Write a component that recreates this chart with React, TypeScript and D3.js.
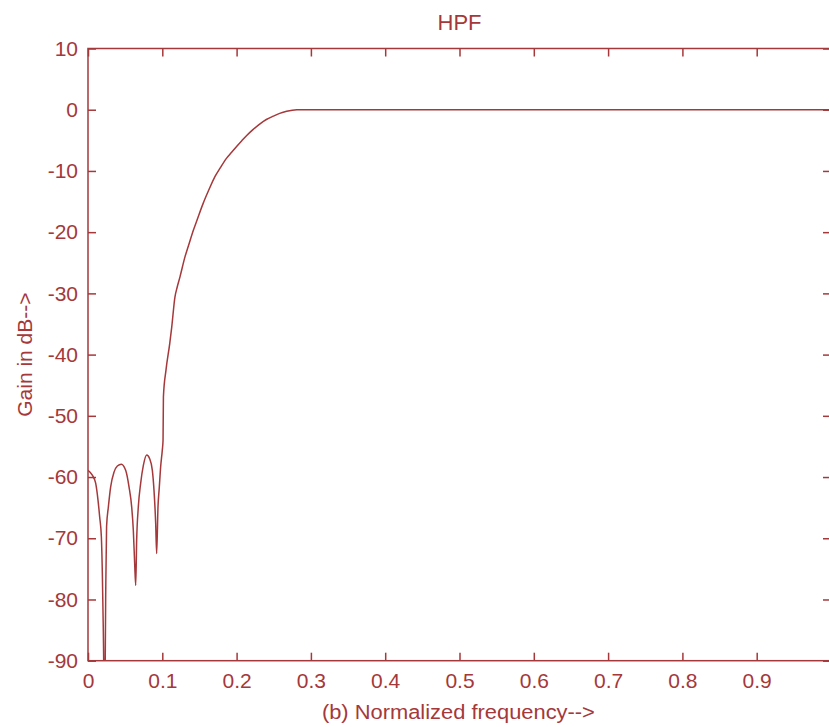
import * as d3 from 'd3';
import React, { useEffect, useRef } from 'react';

// magnitude response (normalized freq, gain in dB)
const freq = [
  0, 0.0058, 0.0103, 0.0135, 0.0157, 0.018, 0.0193, 0.0206, 0.0224, 0.0238, 0.025, 0.0274,
  0.0305, 0.035, 0.0395, 0.0449, 0.0507, 0.0552, 0.0588, 0.061, 0.0628, 0.0642, 0.0655,
  0.0677, 0.0709, 0.0745, 0.079, 0.083, 0.0866, 0.0888, 0.0911, 0.0924, 0.0942, 0.096,
  0.0978, 0.1, 0.101, 0.1015, 0.105, 0.11, 0.1127, 0.117, 0.12, 0.1238, 0.1306, 0.135,
  0.1418, 0.148, 0.155, 0.163, 0.171, 0.178, 0.1866, 0.193, 0.2, 0.207, 0.2136, 0.222,
  0.2315, 0.24, 0.2494, 0.258, 0.2674, 0.281, 0.3, 0.5, 0.7, 1.0,
];
const gain = [
  -58.9, -59.7, -61, -63.8, -66.5, -69.8, -75.7, -85, -100, -79.6, -68.1, -64.9,
  -61.6, -59.2, -58.2, -57.9, -58.9, -61.6, -64.9, -68.7, -74.1, -77.7, -70.3,
  -64.9, -61, -58.1, -56.4, -57, -58.9, -62.1, -67.6, -72.5, -64.9, -61.6,
  -58.3, -55.6, -54, -46.9, -42.5, -38.2, -35.5, -30.6, -29, -27.3, -24.0, -22.3,
  -19.7, -17.6, -15.3, -13, -10.9, -9.5, -7.9, -7, -6.0, -5.05, -4.2, -3.25,
  -2.3, -1.6, -1.05, -0.6, -0.25, 0, 0, 0, 0, 0,
];
const xTicks = [0, 0.1, 0.2, 0.3, 0.4, 0.5, 0.6, 0.7, 0.8, 0.9, 1];
const xTickLabels = ['0', '0.1', '0.2', '0.3', '0.4', '0.5', '0.6', '0.7', '0.8', '0.9', ''];
const yTicks = [10, 0, -10, -20, -30, -40, -50, -60, -70, -80, -90];

const titleText = 'HPF';
const xLabelText = '(b) Normalized frequency-->';
const yLabelText = 'Gain in dB-->';

const W = 829;
const H = 727;
const margin = { top: 48.5, right: -2, bottom: 66.3, left: 88 };
const red = '#a5383a';
const font = '"Liberation Sans", Arial, sans-serif';

function App() {
  const ref = useRef<SVGSVGElement>(null);

  useEffect(() => {
    const svg = d3.select(ref.current);
    svg.selectAll('*').remove();

    const x0 = margin.left;
    const x1 = W - margin.right;
    const y0 = margin.top;
    const y1 = H - margin.bottom;

    const x = d3.scaleLinear().domain([0, 1]).range([x0, x1]);
    const y = d3.scaleLinear().domain([-90, 10]).range([y1, y0]);

    svg.append('defs').append('clipPath').attr('id', 'plotclip')
      .append('rect').attr('x', x0).attr('y', y0).attr('width', x1 - x0).attr('height', y1 - y0);

    // curve
    const pts = freq.map((f, i) => [f, gain[i]] as [number, number]);
    const line = d3.line<[number, number]>().x(d => x(d[0])).y(d => y(d[1])).curve(d3.curveMonotoneX);
    svg.append('path')
      .datum(pts)
      .attr('clip-path', 'url(#plotclip)')
      .attr('d', line)
      .attr('fill', 'none')
      .attr('stroke', red)
      .attr('stroke-width', 1.5)
      .attr('stroke-linejoin', 'round');

    // axes, ticks pointing inward like matlab
    const styleAxis = (g: any) => {
      g.select('.domain').remove();
      g.selectAll('line').attr('stroke', red).attr('stroke-width', 1.5);
      g.selectAll('text').attr('fill', red).style('font-family', font).style('font-size', '21px');
    };

    svg.append('g').attr('transform', `translate(0,${y1})`)
      .call(d3.axisBottom(x).tickValues(xTicks).tickSizeInner(-8).tickSizeOuter(0).tickPadding(12.5)
        .tickFormat((d, i) => xTickLabels[i]))
      .call(styleAxis);
    svg.append('g').attr('transform', `translate(0,${y0})`)
      .call(d3.axisTop(x).tickValues(xTicks).tickSizeInner(-8).tickSizeOuter(0).tickFormat(() => ''))
      .call(styleAxis);
    svg.append('g').attr('transform', `translate(${x0},0)`)
      .call(d3.axisLeft(y).tickValues(yTicks).tickSizeInner(-8).tickSizeOuter(0).tickPadding(10)
        .tickFormat(d => String(d)))
      .call(styleAxis);
    svg.append('g').attr('transform', `translate(${x1},0)`)
      .call(d3.axisRight(y).tickValues(yTicks).tickSizeInner(-8).tickSizeOuter(0).tickFormat(() => ''))
      .call(styleAxis);

    // box
    svg.append('rect')
      .attr('x', x0).attr('y', y0).attr('width', x1 - x0).attr('height', y1 - y0)
      .attr('fill', 'none').attr('stroke', red).attr('stroke-width', 1.5);

    // labels
    const cx = (x0 + x1) / 2;
    svg.append('text').attr('x', cx).attr('y', 29.5).attr('text-anchor', 'middle')
      .attr('fill', red).style('font-family', font).style('font-size', '22px').text(titleText);
    svg.append('text').attr('x', 458.4).attr('y', 719).attr('text-anchor', 'middle')
      .attr('fill', red).style('font-family', font).style('font-size', '20px')
      .attr('textLength', 273).attr('lengthAdjust', 'spacingAndGlyphs').text(xLabelText);
    svg.append('text')
      .attr('transform', `translate(32,${(y0 + y1) / 2}) rotate(-90)`)
      .attr('text-anchor', 'middle')
      .attr('fill', red).style('font-family', font).style('font-size', '21px').text(yLabelText);
  }, []);

  return (
    <svg ref={ref} width={W} height={H}
      style={{ position: 'absolute', left: 0, top: 0, background: '#fff' }} />
  );
}

export default App;
